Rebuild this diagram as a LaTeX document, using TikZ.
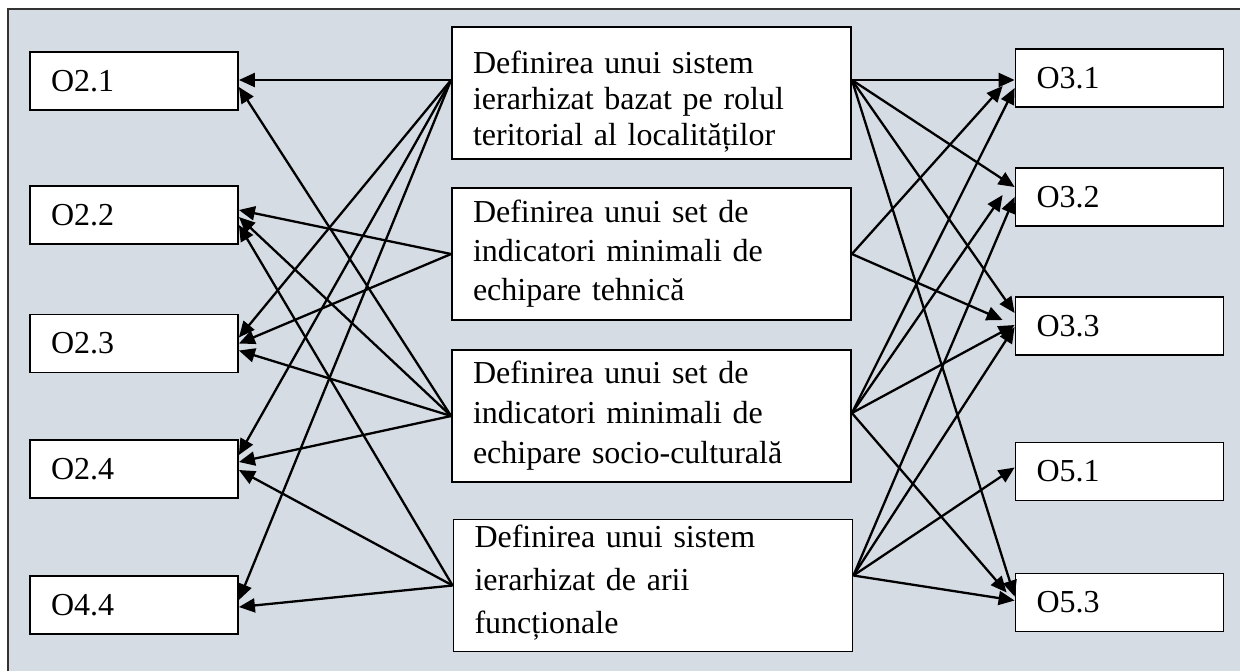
\documentclass[tikz,border=0pt]{standalone}
\usepackage{fontspec}
\setmainfont{Liberation Serif}
\usetikzlibrary{arrows.meta}
\definecolor{panelgray}{RGB}{214,220,228}
\tikzset{>={Triangle[length=8pt,width=7pt]}}
\tikzset{
  objbox/.style={draw=black, line width=0.9pt, fill=white, minimum height=29pt,
    text width=83pt, inner xsep=10.5pt, inner ysep=0pt, align=left,
    font=\fontsize{16}{18}\selectfont},
  measbox/.style={draw=black, line width=0.9pt, fill=white, minimum height=66pt,
    text width=178.5pt, inner xsep=10.5pt, inner ysep=0pt, align=left}
}

\begin{document}
\begin{tikzpicture}[x=0.5pt,y=-0.5pt]
          \useasboundingbox (0,0) rectangle (1240,671);
          \fill[panelgray] (8,9) rectangle (1240,671);
          \draw[line width=0.9pt, black!80] (8,671) -- (8,9) -- (1240,9);
          \node[objbox] (o21) at (134,81) {O2.1};
          \node[objbox] (o22) at (134,215) {O2.2};
          \node[objbox] (o23) at (134,343.5) {O2.3};
          \node[objbox] (o24) at (134,469) {O2.4};
          \node[objbox] (o44) at (134,605) {O4.4};
          \node[objbox] (o31) at (1119.5,78) {O3.1};
          \node[objbox] (o32) at (1119.5,197) {O3.2};
          \node[objbox] (o33) at (1119.5,326) {O3.3};
          \node[objbox] (o51) at (1119.5,471.5) {O5.1};
          \node[objbox] (o53) at (1119.5,602.5) {O5.3};
          \node[measbox, font=\fontsize{16}{18}\selectfont] (m1) at (651.5,93)
            {\rule{0pt}{20pt}Definirea unui sistem\\ierarhizat bazat pe rolul\\teritorial al localităților};
          \node[measbox, font=\fontsize{16}{19.5}\selectfont] (m2) at (651.5,254)
            {Definirea unui set de\\indicatori minimali de\\echipare tehnică};
          \node[measbox, font=\fontsize{16}{20}\selectfont] (m3) at (651.5,416)
            {Definirea unui set de\\indicatori minimali de\\echipare socio-culturală};
          \node[measbox, font=\fontsize{16}{21.5}\selectfont] (m4) at (653,585.5)
            {Definirea unui sistem\\ierarhizat de arii\\funcționale\rule[-6.5pt]{0pt}{6.5pt}};
          \coordinate (m1w) at ([yshift=6.5pt]m1.west);
          \coordinate (m1e) at ([yshift=6.5pt]m1.east);
          \coordinate (m3e) at ([yshift=1.5pt]m3.east);
          \coordinate (m4e) at ([yshift=5pt]m4.east);
          \begin{scope}[->, line width=1.15pt]
            \draw (m1w) -- ([yshift=0.5pt]o21.east);
            \draw (m1w) -- ([yshift=3pt]o23.east);
            \draw (m1w) -- ([yshift=7pt]o24.east);
            \draw (m1w) -- ([yshift=2.5pt]o44.east);
            \draw (m2.west) -- ([yshift=2.5pt]o22.east);
            \draw (m2.west) -- (o23.east);
            \draw (m3.west) -- ([yshift=-3pt]o21.east);
            \draw (m3.west) -- ([yshift=-1pt]o22.east);
            \draw (m3.west) -- ([yshift=-3.5pt]o23.east);
            \draw (m3.west) -- ([yshift=3.5pt]o24.east);
            \draw (m4.west) -- ([yshift=-5pt]o22.east);
            \draw (m4.west) -- ([yshift=-0.5pt]o24.east);
            \draw (m4.west) -- ([yshift=-1pt]o44.east);
            \draw (m1e) -- ([yshift=-1pt]o31.west);
            \draw (m1e) -- ([yshift=5pt]o32.west);
            \draw (m1e) -- ([yshift=6.5pt]o33.west);
            \draw (m1e) -- ([yshift=3pt]o53.west);
            \draw (m2.east) -- ([xshift=-6pt,yshift=-4pt]o31.west);
            \draw (m2.east) -- ([xshift=-6pt,yshift=3pt]o33.west);
            \draw (m3e) -- ([yshift=-5pt]o31.west);
            \draw (m3e) -- ([xshift=-6pt,yshift=1pt]o32.west);
            \draw (m3e) -- ([yshift=0.5pt]o33.west);
            \draw (m3e) -- ([xshift=-4pt,yshift=5pt]o53.west);
            \draw (m4e) -- (o32.west);
            \draw (m4e) -- ([yshift=-0.5pt]o33.west);
            \draw (m4e) -- ([yshift=2pt]o51.west);
            \draw (m4e) -- ([yshift=1pt]o53.west);
          \end{scope}
\end{tikzpicture}
\end{document}
